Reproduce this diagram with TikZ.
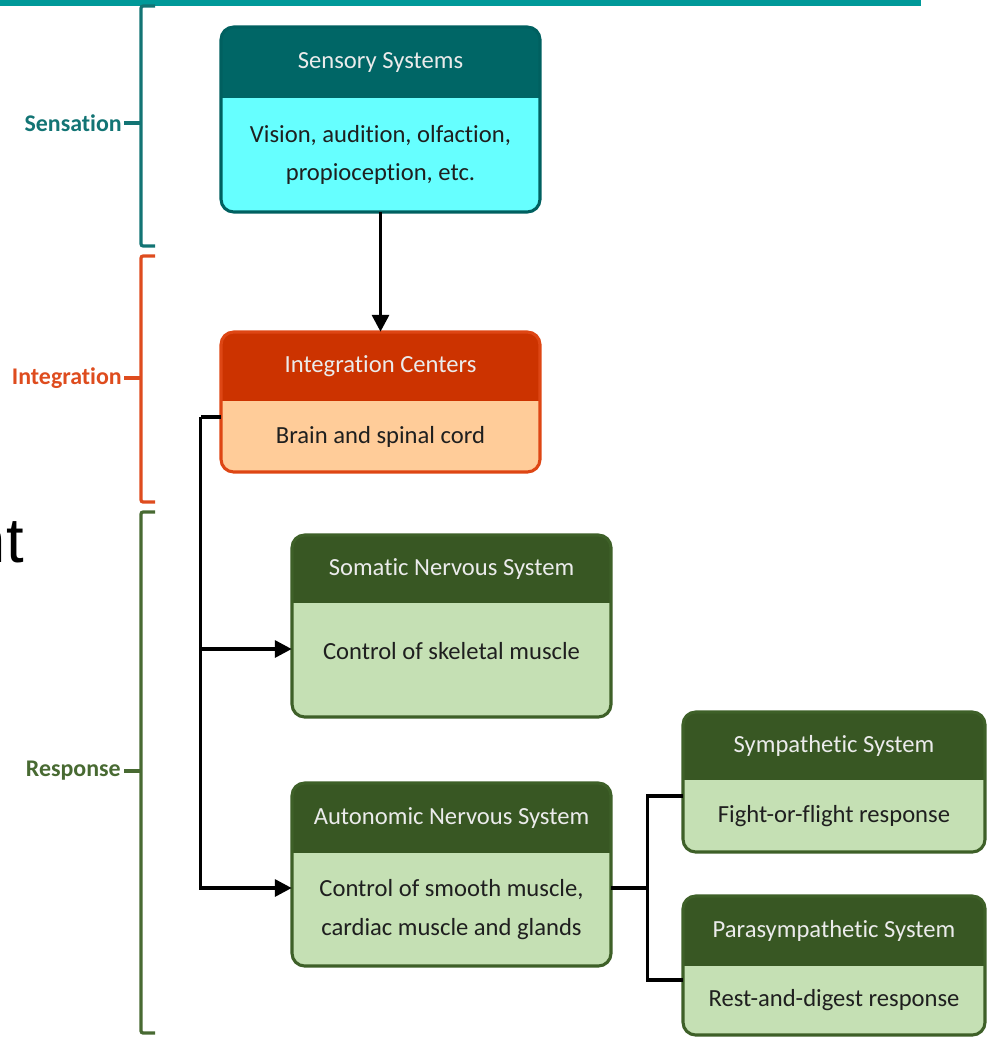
\documentclass[tikz,border=0pt]{standalone}
\usepackage{fontspec}
\setmainfont{Carlito}[Ligatures=CommonOff]
\newfontfamily\arialfont{Liberation Sans}
\usetikzlibrary{arrows.meta,calc,fit}

\definecolor{barTeal}{RGB}{0,153,153}
\definecolor{sensLabel}{RGB}{18,116,116}
\definecolor{sensHead}{RGB}{0,102,102}
\definecolor{sensBody}{RGB}{102,255,255}
\definecolor{sensLine}{RGB}{0,96,96}
\definecolor{intLabel}{RGB}{222,76,30}
\definecolor{intHead}{RGB}{204,51,0}
\definecolor{intBody}{RGB}{255,204,153}
\definecolor{intLine}{RGB}{222,70,20}
\definecolor{respLabel}{RGB}{72,106,50}
\definecolor{respHead}{RGB}{56,87,35}
\definecolor{respBody}{RGB}{197,224,180}
\definecolor{respLine}{RGB}{62,96,40}

\tikzset{
  headtext/.style={text=white!92!black, inner sep=0, font=\fontsize{17.5}{20}\selectfont},
  bodytext/.style={text=black!88, inner sep=0, align=center, font=\fontsize{17.5}{27.5}\selectfont},
  sidelabel/.style={inner sep=0, anchor=east, font=\bfseries\fontsize{17}{20}\selectfont},
  bracket/.style={line width=2.3pt, rounded corners=1.5pt},
  conn/.style={line width=2.5pt, -{Triangle[length=12pt,width=12pt]}},
  link/.style={line width=2.5pt},
}

% #1 name, #2 left, #3 top, #4 right, #5 header bottom, #6 bottom, #7 colours, #8 header, #9 body
\newcommand{\sysbox}[9]{%
  \fill[#7Head, rounded corners=9pt] (#2,#3) rectangle (#4,#6);
  \fill[#7Body, rounded corners=9pt] (#2,#5) -- (#2,#6) -- (#4,#6) -- (#4,#5);
  \draw[#7Line, line width=2.2pt, rounded corners=9pt] (#2,#3) rectangle (#4,#6);
  \node[inner sep=0, fit={(#2,#3) (#4,#6)}] (#1) {};
  \node[headtext] (#1-head) at ($(#2,#3)!0.5!(#4,#5)$) {#8};
  \node[bodytext] (#1-body) at ($(#2,#5)!0.5!(#4,#6)$) {#9};
}

\begin{document}
\begin{tikzpicture}[x=0.025cm, y=-0.025cm]
  \useasboundingbox (0,0) rectangle (990,1038);

  % top rule and cut-off word
  \fill[barTeal] (0,0) rectangle (921,6);
  \node[inner sep=0, anchor=base east, font=\arialfont\fontsize{45}{50}\selectfont] (cutword) at (24,562) {nt};

  % side brackets
  \draw[bracket, sensLabel] (155,6) -- (141,6) -- (141,246) -- (155,246);
  \node[sidelabel, text=sensLabel] (lblSens) at (122,123) {Sensation};
  \draw[bracket, sensLabel] (lblSens.east) ++(2,0) -- (141,123);

  \draw[bracket, intLabel] (155,256) -- (141,256) -- (141,502) -- (155,502);
  \node[sidelabel, text=intLabel] (lblInt) at (122,378) {Integration};
  \draw[bracket, intLabel] (lblInt.east) ++(2,0) -- (141,378);

  \draw[bracket, respLabel] (155,512) -- (141,512) -- (141,1033) -- (155,1033);
  \node[sidelabel, text=respLabel] (lblResp) at (121,771) {Response};
  \draw[bracket, respLabel] (lblResp.east) ++(3,0) -- (141,771);

  % boxes
  \sysbox{sens}{221}{27}{540}{98}{212}{sens}{Sensory Systems}{Vision, audition, olfaction,\\propioception, etc.}
  \sysbox{int}{221}{332}{540}{401}{472}{int}{Integration Centers}{Brain and spinal cord}
  {\tikzset{bodytext/.append style={yshift=6.4pt}}
  \sysbox{som}{292}{535}{611}{603}{717}{resp}{Somatic Nervous System}{Control of skeletal muscle}}
  \sysbox{aut}{292}{783}{611}{853}{966}{resp}{Autonomic Nervous System}{Control of smooth muscle,\\cardiac muscle and glands}
  \sysbox{symp}{683}{712}{985}{780}{852}{resp}{Sympathetic System}{Fight-or-flight response}
  \sysbox{para}{683}{896}{985}{966}{1035}{resp}{Parasympathetic System}{Rest-and-digest response}

  % connectors
  \draw[conn] (sens.south) -- (int.north);
  \draw[link] ($(int.west)+(0,15)$) -- ++(-20,0) coordinate (trunk);
  \draw[conn] (trunk) |- ($(aut.west)+(0,13.5)$);
  \draw[conn] (trunk |- som.west) ++(0,23) -- ($(som.west)+(0,23)$);
  \draw[link] ($(aut.east)+(0,13.5)$) -- ++(36,0) coordinate (fork);
  \draw[link] ($(symp.west)+(0,14)$) -| (fork);
  \draw[link] ($(para.west)+(0,14.5)$) -| (fork);
\end{tikzpicture}
\end{document}
